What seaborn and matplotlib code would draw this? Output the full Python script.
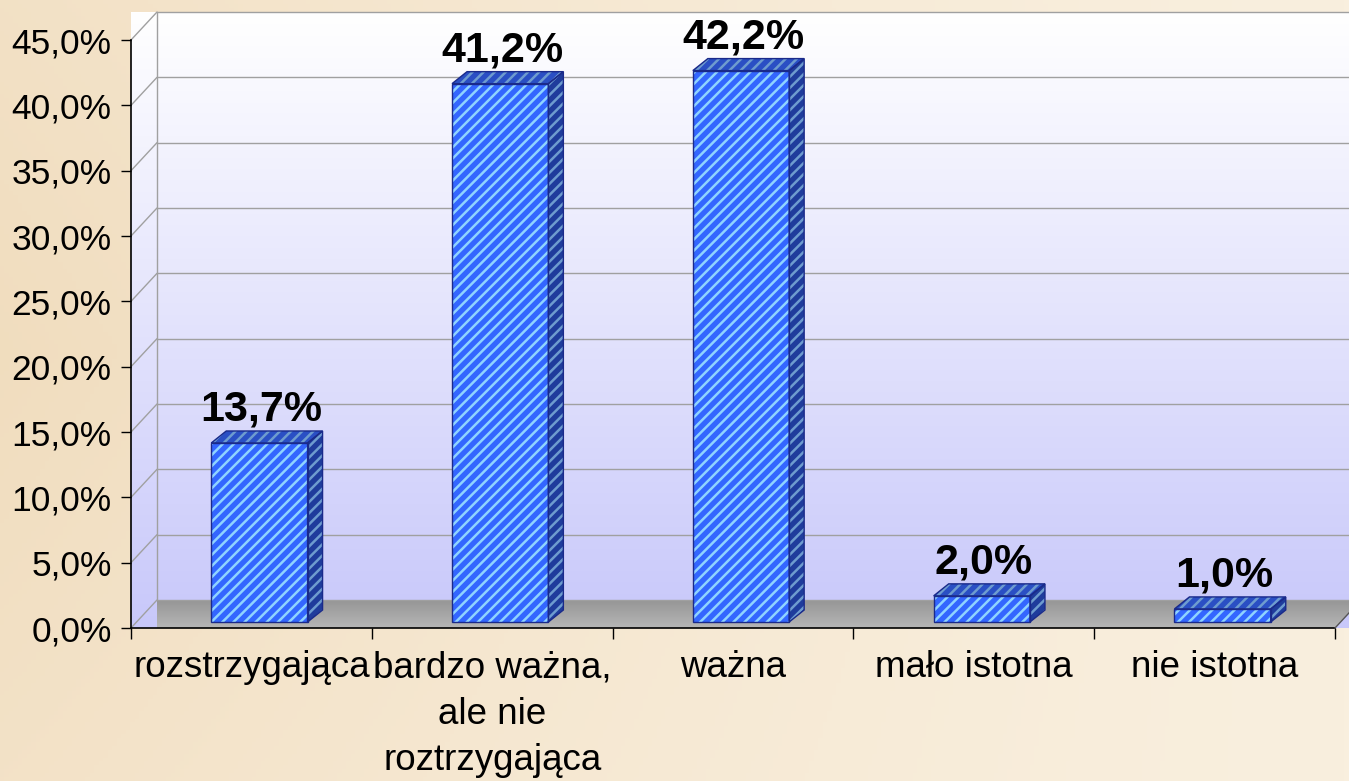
import numpy as np
import matplotlib
matplotlib.use('Agg')
import matplotlib.pyplot as plt
import matplotlib.transforms as mtransforms
from matplotlib.patches import Polygon
from matplotlib.lines import Line2D
from matplotlib.ticker import FixedLocator
import seaborn as sns

categories = ['rozstrzygająca', 'bardzo ważna,\nale nie\nroztrzygająca', 'ważna',
              'mało istotna', 'nie istotna']
values = [13.7, 41.2, 42.2, 2.0, 1.0]
value_labels = ['13,7%', '41,2%', '42,2%', '2,0%', '1,0%']
y_ticks = [0, 5, 10, 15, 20, 25, 30, 35, 40, 45]
y_tick_labels = ['0,0%', '5,0%', '10,0%', '15,0%', '20,0%', '25,0%',
                 '30,0%', '35,0%', '40,0%', '45,0%']

W, H = 1349, 781
WALL_DX, WALL_DY = 26, 28      # depth of the back wall (px)
BAR_DX, BAR_DY = 8, 6          # bars sit a bit inside the box
SIDE_DX, SIDE_DY = 15, 12      # bar depth

sns.set_theme(style='white')
plt.rcParams['font.family'] = ['Liberation Sans', 'DejaVu Sans']
plt.rcParams['hatch.linewidth'] = 1.8

fig = plt.figure(figsize=(W / 100, H / 100), dpi=100)
ident = mtransforms.IdentityTransform()

# page background (beige)
bg = fig.add_axes([0, 0, 1, 1], zorder=-3)
yy, xx = np.mgrid[0:1:200j, 0:1:300j]
light = np.array([249, 239, 222]) / 255
dark = np.array([238, 215, 180]) / 255
f = np.clip(0.75 * (1 - xx) ** 1.3 * (1 - 0.5 * np.abs(yy - 0.45)), 0, 1)
img = light * (1 - f[..., None]) + dark * f[..., None]
bg.imshow(img, aspect='auto', extent=[0, 1, 0, 1])
bg.axis('off')

# main axes = front face of the 3d box
left, bottom = 131 / W, (H - 628) / H
ax = fig.add_axes([left, bottom, (1335 - 131) / W, (628 - 40) / H], zorder=1)
ax.patch.set_alpha(0)

# wall gradient (white -> lavender)
wall = fig.add_axes([left, bottom, 1 - left, (628 - 12) / H], zorder=-2)
g = np.linspace(0, 1, 256)[:, None]
top_c = np.array([1.0, 1.0, 1.0])
bot_c = np.array([200, 200, 250]) / 255
wall_img = top_c * (1 - g[..., None]) + bot_c * g[..., None]
wall.imshow(wall_img, aspect='auto', extent=[0, 1, 0, 1])
wall.axis('off')

sns.barplot(x=categories, y=values, ax=ax, color='#3366ff', saturation=1,
            width=0.4, edgecolor='#8fd3ff', linewidth=0, hatch='///', zorder=3)
ax.set_xlim(-0.5, 4.5)
ax.set_ylim(0, 45)

# floor (starts behind the left wall)
p0 = ax.transAxes.transform((0, 0))
p1 = ax.transAxes.transform((1, 0))
floor_pts = [p0 + (WALL_DX, 0), p1, p1 + (WALL_DX, WALL_DY), p0 + (WALL_DX, WALL_DY)]
fx0, fy0 = p0
fax = fig.add_axes([fx0 / W, fy0 / H, (p1[0] + WALL_DX - fx0) / W, WALL_DY / H], zorder=-1)
fg = np.linspace(0, 1, 64)[:, None]
floor_img = (np.array([150, 150, 150]) * (1 - fg[..., None]) +
             np.array([182, 182, 182]) * fg[..., None]) / 255
im = fax.imshow(floor_img, aspect='auto', extent=[0, 1, 0, 1])
im.set_clip_path(Polygon(floor_pts, closed=True, transform=ident))
fax.axis('off')
fig.add_artist(Line2D([p1[0], p1[0] + WALL_DX], [p1[1], p1[1] + WALL_DY],
                      transform=ident, color='#555555', linewidth=1))

# gridlines on the back and left walls
grid_c = '#a0a0a0'
for v in y_ticks:
    p = ax.transData.transform((-0.5, v))
    q = p + (WALL_DX, WALL_DY)
    fig.add_artist(Line2D([p[0], q[0]], [p[1], q[1]], transform=ident,
                          color=grid_c, linewidth=1, zorder=0.5))
    fig.add_artist(Line2D([q[0], W + 20], [q[1], q[1]], transform=ident,
                          color=grid_c, linewidth=1, zorder=0.5))
back_bot = p0 + (WALL_DX, WALL_DY)
back_top = ax.transData.transform((-0.5, 45)) + (WALL_DX, WALL_DY)
fig.add_artist(Line2D([back_bot[0], back_top[0]], [back_bot[1], back_top[1]],
                      transform=ident, color=grid_c, linewidth=1, zorder=0.5))

# 3d bars
shift = mtransforms.ScaledTranslation(BAR_DX / 100, BAR_DY / 100, fig.dpi_scale_trans)
navy = '#1a2a8a'
for patch, lab in zip(ax.patches, value_labels):
    patch.set_transform(ax.transData + shift)
    x, w, h = patch.get_x(), patch.get_width(), patch.get_height()
    x0, y0 = ax.transData.transform((x, 0)) + (BAR_DX, BAR_DY)
    x1, y1 = ax.transData.transform((x + w, h)) + (BAR_DX, BAR_DY)
    side = [(x1, y0), (x1 + SIDE_DX, y0 + SIDE_DY), (x1 + SIDE_DX, y1 + SIDE_DY), (x1, y1)]
    topf = [(x0, y1), (x1, y1), (x1 + SIDE_DX, y1 + SIDE_DY), (x0 + SIDE_DX, y1 + SIDE_DY)]
    front = [(x0, y0), (x1, y0), (x1, y1), (x0, y1)]
    for pts, fc, hc in [(side, '#1f3c9c', '#6e9ccf'), (topf, '#2a4fc4', '#6e9ccf')]:
        ax.add_patch(Polygon(pts, closed=True, transform=ident, facecolor=fc,
                             edgecolor=hc, linewidth=0, hatch='///', zorder=3,
                             clip_on=False))
    for pts in (side, topf, front):
        ax.add_patch(Polygon(pts, closed=True, transform=ident, facecolor='none',
                             edgecolor=navy, linewidth=1, zorder=4, clip_on=False))
    ax.annotate(lab, xy=(x + w / 2, h), xytext=(BAR_DX + 2, BAR_DY + SIDE_DY + 1),
                textcoords='offset pixels', ha='center', va='bottom',
                fontsize=31, fontweight='bold', color='black', zorder=5,
                annotation_clip=False)

# axes styling
for s in ['top', 'right']:
    ax.spines[s].set_visible(False)
for s in ['left', 'bottom']:
    ax.spines[s].set_color('black')
    ax.spines[s].set_linewidth(1.2)
    ax.spines[s].set_zorder(6)

ax.yaxis.set_major_locator(FixedLocator(y_ticks))
ax.set_yticklabels(y_tick_labels)
ax.tick_params(axis='y', which='major', left=True, direction='out', length=7,
               width=1, color='black', pad=7, labelsize=25.5, labelcolor='black')
ax.xaxis.set_minor_locator(FixedLocator(np.arange(-0.5, 5, 1.0)))
ax.tick_params(axis='x', which='major', bottom=False, length=0, pad=16,
               labelsize=26.5, labelcolor='black')
ax.tick_params(axis='x', which='minor', bottom=True, direction='out', length=8,
               width=1, color='black')
for t in ax.get_xticklabels():
    t.set_linespacing(1.42)
ax.set_xlabel('')
ax.set_ylabel('')
ax.grid(False)

fig.savefig('out.png', dpi=100)
